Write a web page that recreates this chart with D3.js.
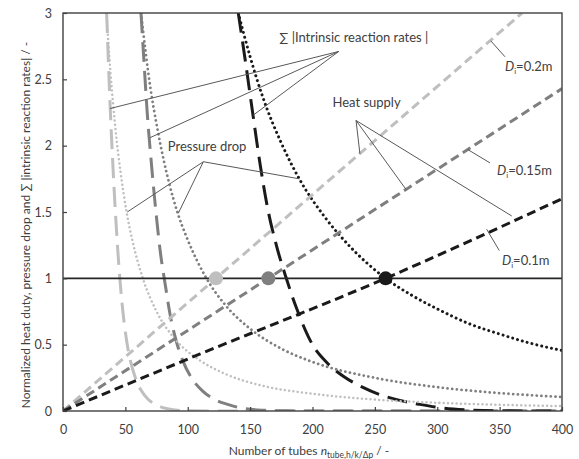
<!DOCTYPE html>
<html>
<head>
<meta charset="utf-8">
<script src="https://cdn.jsdelivr.net/npm/d3@7"></script>
<style>
  body { margin: 0; background: #fff; }
  text { font-family: Lato, "Open Sans", sans-serif; fill: #404040; }
</style>
</head>
<body>
<svg id="chart" width="579" height="459"></svg>
<script>
// ---- data -------------------------------------------------------------
const xTicks = [0, 50, 100, 150, 200, 250, 300, 350, 400];
const yTicks = [0, 0.5, 1, 1.5, 2, 2.5, 3];
const diameterLabels = ["0.2m", "0.15m", "0.1m"];
const seriesColors = ["#bfbfbf", "#7f7f7f", "#1a1a1a"];

// heat supply (normalized) vs number of tubes, [n, value]
const heatSupply02  = [[0, 0], [122.6, 1], [368, 3]];
const heatSupply015 = [[0, 0], [164.6, 1], [400, 2.43]];
const heatSupply01  = [[0, 0], [110, 0.43], [258.6, 1], [400, 1.6]];

// pressure drop (normalized)
const pressure02 = [[34.8, 3], [38, 2.56], [42, 2.13], [46, 1.81], [51, 1.5], [56, 1.27], [64, 1],
  [75, 0.75], [90, 0.54], [110, 0.38], [130, 0.28], [160, 0.19], [200, 0.13], [250, 0.086],
  [300, 0.062], [350, 0.047], [400, 0.037]];
const pressure015 = [[62.5, 3], [70, 2.44], [76, 2.11], [85, 1.72], [92, 1.49], [100, 1.29], [115, 1],
  [130, 0.8], [150, 0.62], [175, 0.47], [200, 0.37], [250, 0.25], [300, 0.18], [350, 0.135], [400, 0.106]];
const pressure01 = [[140.5, 3], [150, 2.67], [160, 2.37], [175, 2.02], [190, 1.74], [210, 1.46], [230, 1.24],
  [258.6, 1], [280, 0.87], [300, 0.77], [325, 0.66], [350, 0.58], [375, 0.51], [400, 0.456]];

// sum of |intrinsic reaction rates| (normalized)
const reaction02 = [[35, 3], [36.5, 2.6], [38, 2.25], [40, 1.85], [42, 1.5], [44, 1.2], [46, 0.95],
  [48, 0.75], [51, 0.53], [54, 0.38], [58, 0.25], [63, 0.15], [68, 0.09], [74, 0.05], [80, 0.025],
  [90, 0.008], [100, 0.002], [120, 0], [400, 0]];
const reaction015 = [[62.5, 3], [65, 2.62], [67.5, 2.25], [71, 1.85], [74.5, 1.5], [78, 1.2], [82, 0.95],
  [86, 0.72], [91, 0.52], [96, 0.38], [103, 0.25], [112, 0.15], [121, 0.09], [132, 0.05], [143, 0.022],
  [160, 0.006], [180, 0.001], [200, 0], [400, 0]];
const reaction01 = [[140.5, 3], [146, 2.65], [152, 2.25], [158, 1.86], [164, 1.53], [171, 1.25], [179, 1],
  [187, 0.78], [200, 0.5], [212, 0.36], [225, 0.26], [240, 0.18], [255, 0.12], [270, 0.08], [286, 0.05],
  [305, 0.022], [325, 0.008], [350, 0.002], [400, 0]];

// operating points where heat supply reaches 1
const designPoints = [[122.6, 1], [164.6, 1], [258.6, 1]];

// ---- layout -----------------------------------------------------------
const svg = d3.select("#chart");
const x = d3.scaleLinear().domain([0, 400]).range([63, 562]);
const y = d3.scaleLinear().domain([0, 3]).range([411, 13]);

svg.append("defs").append("clipPath").attr("id", "plot")
  .append("rect").attr("x", 63).attr("y", 13).attr("width", 499).attr("height", 398);

const line = d3.line().x(d => x(d[0])).y(d => y(d[1])).curve(d3.curveMonotoneX);
const marks = svg.append("g").attr("clip-path", "url(#plot)");

const heat = [heatSupply02, heatSupply015, heatSupply01];
const pressure = [pressure02, pressure015, pressure01];
const reaction = [reaction02, reaction015, reaction01];
const dotWidth = [2.5, 2.8, 3.0];
const dotGap = [4.3, 4.7, 5.0];

reaction.forEach((s, i) => marks.append("path").datum(s).attr("d", line)
  .attr("fill", "none").attr("stroke", seriesColors[i]).attr("stroke-width", 3)
  .attr("stroke-dasharray", "20,9"));

pressure.forEach((s, i) => marks.append("path").datum(s).attr("d", line)
  .attr("fill", "none").attr("stroke", seriesColors[i]).attr("stroke-width", dotWidth[i])
  .attr("stroke-linecap", "round").attr("stroke-dasharray", `0.01,${dotGap[i]}`));

heat.forEach((s, i) => marks.append("path").datum(s).attr("d", line)
  .attr("fill", "none").attr("stroke", seriesColors[i]).attr("stroke-width", 3)
  .attr("stroke-dasharray", "9,5"));

// unity line
marks.append("line").attr("x1", x(0)).attr("x2", x(400)).attr("y1", y(1)).attr("y2", y(1))
  .attr("stroke", "#262626").attr("stroke-width", 1.6);

svg.append("g").selectAll("circle").data(designPoints).join("circle")
  .attr("cx", d => x(d[0])).attr("cy", d => y(d[1])).attr("r", 7)
  .attr("fill", (d, i) => seriesColors[i]);

// ---- axes -------------------------------------------------------------
const axisStyle = g => {
  g.select(".domain").remove();
  g.selectAll(".tick line").attr("stroke", "#404040").attr("stroke-width", 1.2);
  g.selectAll(".tick text").style("font-size", "12.5px").attr("fill", "#404040");
};
svg.append("g").attr("transform", `translate(63,0)`)
  .call(d3.axisLeft(y).tickValues(yTicks).tickSizeInner(-4).tickSizeOuter(0).tickPadding(11)
    .tickFormat(d3.format("")))
  .call(axisStyle);
svg.append("g").attr("transform", `translate(0,411)`)
  .call(d3.axisBottom(x).tickValues(xTicks).tickSizeInner(-4).tickSizeOuter(0).tickPadding(14))
  .call(axisStyle);

svg.append("rect").attr("x", 63).attr("y", 13).attr("width", 499).attr("height", 398)
  .attr("fill", "none").attr("stroke", "#404040").attr("stroke-width", 1.4);

// axis titles
svg.append("text").attr("transform", "translate(30,225) rotate(-90)")
  .attr("text-anchor", "middle").style("font-size", "12px")
  .text("Normalized heat duty, pressure drop and ∑ |intrinsic reaction rates| / -");

const xt = svg.append("text").attr("x", 309).attr("y", 455).attr("text-anchor", "middle")
  .style("font-size", "12px");
xt.append("tspan").text("Number of tubes ");
xt.append("tspan").attr("font-style", "italic").text("n");
xt.append("tspan").attr("dy", 3).style("font-size", "8.5px").text("tube,h/k/Δp");
xt.append("tspan").attr("dy", -3).text(" / -");

// ---- annotations ------------------------------------------------------
const leaderColor = "#595959";
function leaders(apex, ends) {
  ends.forEach(e => svg.append("line")
    .attr("x1", x(apex[0])).attr("y1", y(apex[1])).attr("x2", x(e[0])).attr("y2", y(e[1]))
    .attr("stroke", leaderColor).attr("stroke-width", 1));
}
function note(pos, str) {
  return svg.append("text").attr("x", x(pos[0])).attr("y", y(pos[1]))
    .style("font-size", "13px").attr("fill", "#262626").text(str);
}

note([173.5, 2.78], "∑ |Intrinsic reaction rates |");
leaders([221, 2.71], [[37.7, 2.28], [69.7, 2.06], [152.5, 2.23]]);

note([84, 1.96], "Pressure drop");
leaders([112.5, 1.879], [[51.5, 1.5], [92.4, 1.49], [189.4, 1.75]]);

note([216, 2.29], "Heat supply");
leaders([234.9, 2.19], [[238, 1.94], [275, 1.67], [359.7, 1.47]]);

function diaLabel(pos, lbl) {
  const t = svg.append("text").attr("x", x(pos[0])).attr("y", y(pos[1]))
    .style("font-size", "13px").attr("fill", "#262626");
  t.append("tspan").attr("font-style", "italic").text("D");
  t.append("tspan").attr("dy", 3).style("font-size", "8px").text("i");
  t.append("tspan").attr("dy", -3).text("=" + lbl);
}
leaders([342.9, 2.79], [[354.3, 2.67]]);
diaLabel([354.3, 2.56], diameterLabels[0]);
leaders([324.6, 1.97], [[342.3, 1.87]]);
diaLabel([347.9, 1.78], diameterLabels[1]);
leaders([339.6, 1.37], [[349.7, 1.21]]);
diaLabel([351.9, 1.1], diameterLabels[2]);
</script>
</body>
</html>
